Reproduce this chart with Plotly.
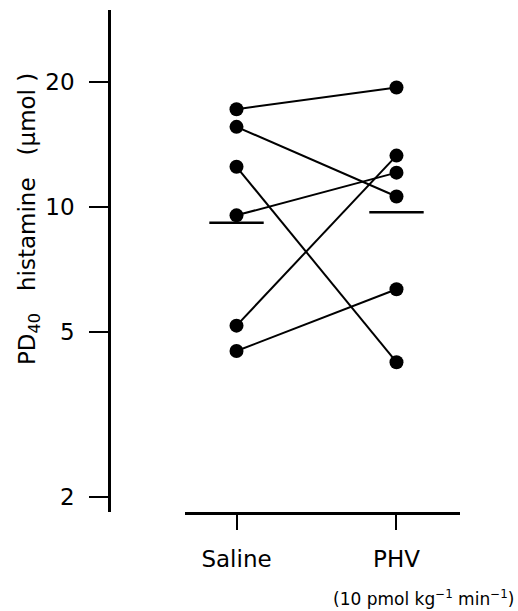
import plotly.graph_objects as go
import math

# ---- data ----
categories = ["Saline", "PHV"]
saline_pd40 = [17.2, 15.6, 12.5, 9.55, 5.18, 4.5]
phv_pd40 = [19.4, 10.6, 4.23, 12.1, 13.3, 6.34]
group_means = [9.17, 9.72]
y_tick_values = [2, 5, 10, 20]
y_tick_labels = ["2", "5", "10", "20"]

FONT = "DejaVu Sans"
cat_x = list(range(len(categories)))

fig = go.Figure()

# paired lines for each subject
for s, p in zip(saline_pd40, phv_pd40):
    fig.add_trace(go.Scatter(
        x=cat_x, y=[s, p], mode="lines+markers",
        line=dict(color="black", width=2),
        marker=dict(color="black", size=14),
        showlegend=False, hoverinfo="skip"))

# horizontal mean bars
half_w = 0.17
for cx, m in zip(cat_x, group_means):
    fig.add_trace(go.Scatter(
        x=[cx - half_w, cx + half_w], y=[m, m], mode="lines",
        line=dict(color="black", width=2.5),
        showlegend=False, hoverinfo="skip"))

W, H = 518, 611
L, R, T, B = 109, 58, 10, 99
pw = W - L - R
ph = H - T - B

fig.update_layout(
    width=W, height=H, autosize=False,
    margin=dict(l=L, r=R, t=T, b=B, pad=0),
    paper_bgcolor="white", plot_bgcolor="white",
    font=dict(family=FONT, color="black"),
    xaxis=dict(
        domain=[(185 - L) / pw, 1],
        range=[-0.322, 1.397],
        tickvals=cat_x, ticktext=categories,
        ticks="outside", ticklen=15, tickwidth=2, tickcolor="black",
        showline=True, linecolor="black", linewidth=2.5,
        showgrid=False, zeroline=False,
        tickfont=dict(size=23, family=FONT),
        ticklabelstandoff=10,
        anchor="y",
    ),
    yaxis=dict(
        type="log",
        range=[math.log10(1.843), 1.4745],
        tickvals=y_tick_values, ticktext=y_tick_labels,
        ticks="outside", ticklen=19, tickwidth=2, tickcolor="black",
        showline=True, linecolor="black", linewidth=2.5,
        showgrid=False, zeroline=False,
        tickfont=dict(size=23, family=FONT),
        ticklabelstandoff=10,
        anchor="free", position=0,
    ),
)

nb = "\u00a0"
fig.add_annotation(
    text=f"PD<sub>40</sub>{nb}{nb}{nb}histamine{nb}{nb}{nb}(µmol{nb})",
    textangle=-90, xref="paper", yref="paper",
    x=(29 - L) / pw, y=(T + ph - 219) / ph,
    xanchor="center", yanchor="middle", showarrow=False,
    font=dict(size=23, family=FONT, color="black"))

fig.add_annotation(
    text="(10 pmol kg<sup>−1</sup> min<sup>−1</sup>)",
    xref="paper", yref="paper",
    x=(423 - L) / pw, y=(T + ph - 598) / ph,
    xanchor="center", yanchor="middle", showarrow=False,
    font=dict(size=17, family=FONT, color="black"))

fig.write_html("out.html")
